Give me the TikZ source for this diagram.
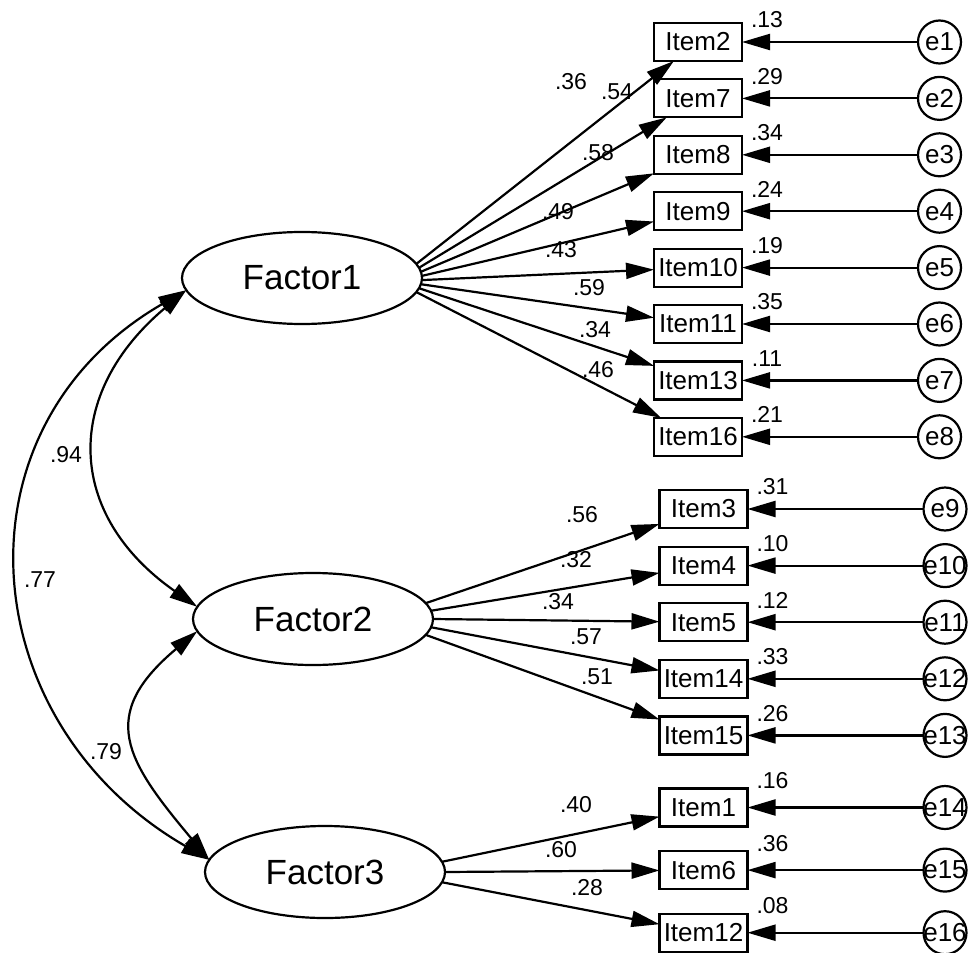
\documentclass[tikz,border=0pt]{standalone}
\usepackage{fontspec}
\setmainfont{Liberation Sans}
\usepackage{tikz}
\usetikzlibrary{arrows.meta}
\usetikzlibrary{shapes.geometric,positioning}
\tikzset{cfa-line/.style={line width=1.1pt}}
\tikzset{>={Triangle[length=14pt,width=8pt]}}
\tikzset{cfa-item/.style={draw, line width=1.1pt, inner sep=0, outer sep=0, minimum width=44pt, minimum height=19pt, font=\fontsize{13}{15}\selectfont}}
\tikzset{cfa-error/.style={draw, circle, line width=1.1pt, inner sep=-3pt, outer sep=0, minimum size=21.5pt, font=\fontsize{13}{15}\selectfont}}
\tikzset{cfa-factor/.style={draw, ellipse, line width=1.1pt, inner sep=0, outer sep=0, minimum width=120pt, minimum height=46pt, font=\fontsize{17.5}{20}\selectfont}}
\tikzset{cfa-num/.style={inner sep=0, font=\fontsize{11.5}{13}\selectfont}}

\begin{document}
\begin{tikzpicture}[x=0.5pt, y=0.5pt]
            \useasboundingbox (0,0) rectangle (968,-952);

            \node[cfa-factor] (factor1) at (302,-278) {Factor1};
            \node[cfa-factor] (factor2) at (313,-619) {Factor2};
            \node[cfa-factor] (factor3) at (325,-872) {Factor3};

            \node[cfa-item] (item2) at (698,-42) {Item2};
            \node[cfa-item, below=9.2pt of item2] (item7) {Item7};
            \node[cfa-item, below=9.2pt of item7] (item8) {Item8};
            \node[cfa-item, below=9.2pt of item8] (item9) {Item9};
            \node[cfa-item, below=9.2pt of item9] (item10) {Item10};
            \node[cfa-item, below=9.2pt of item10] (item11) {Item11};
            \node[cfa-item, below=9.2pt of item11] (item13) {Item13};
            \node[cfa-item, below=9.2pt of item13] (item16) {Item16};

            \node[cfa-item] (item3) at (703.5,-509) {Item3};
            \node[cfa-item, below=9.3pt of item3] (item4) {Item4};
            \node[cfa-item, below=9.3pt of item4] (item5) {Item5};
            \node[cfa-item, below=9.3pt of item5] (item14) {Item14};
            \node[cfa-item, below=9.3pt of item14] (item15) {Item15};

            \node[cfa-item] (item1) at (703.5,-807.5) {Item1};
            \node[cfa-item, below=12.3pt of item1] (item6) {Item6};
            \node[cfa-item, below=12.3pt of item6] (item12) {Item12};

            \node[cfa-error, right=88pt of item2] (e1) {e1};
            \node[cfa-error, right=88pt of item7] (e2) {e2};
            \node[cfa-error, right=88pt of item8] (e3) {e3};
            \node[cfa-error, right=88pt of item9] (e4) {e4};
            \node[cfa-error, right=88pt of item10] (e5) {e5};
            \node[cfa-error, right=88pt of item11] (e6) {e6};
            \node[cfa-error, right=88pt of item13] (e7) {e7};
            \node[cfa-error, right=88pt of item16] (e8) {e8};
            \node[cfa-error, right=88pt of item3] (e9) {e9};
            \node[cfa-error, right=88pt of item4] (e10) {e10};
            \node[cfa-error, right=88pt of item5] (e11) {e11};
            \node[cfa-error, right=88pt of item14] (e12) {e12};
            \node[cfa-error, right=88pt of item15] (e13) {e13};
            \node[cfa-error, right=88pt of item1] (e14) {e14};
            \node[cfa-error, right=88pt of item6] (e15) {e15};
            \node[cfa-error, right=88pt of item12] (e16) {e16};

            \draw[->, cfa-line] (factor1.7) -- (item2);
            \draw[->, cfa-line] (factor1.5) -- (item7);
            \draw[->, cfa-line] (factor1.3) -- (item8);
            \draw[->, cfa-line] (factor1.1) -- (item9);
            \draw[->, cfa-line] (factor1.-1) -- (item10);
            \draw[->, cfa-line] (factor1.-3) -- (item11);
            \draw[->, cfa-line] (factor1.-5) -- (item13);
            \draw[->, cfa-line] (factor1.-7) -- (item16);

            \draw[->, cfa-line] (factor2.8) -- (item3);
            \draw[->, cfa-line] (factor2.4) -- (item4);
            \draw[->, cfa-line] (factor2.0) -- (item5);
            \draw[->, cfa-line] (factor2.-4) -- (item14);
            \draw[->, cfa-line] (factor2.-8) -- (item15);

            \draw[->, cfa-line] (factor3.5) -- (item1);
            \draw[->, cfa-line] (factor3.0) -- (item6);
            \draw[->, cfa-line] (factor3.-5) -- (item12);

            \draw[->, cfa-line] (e1) -- (item2);
            \draw[->, cfa-line] (e2) -- (item7);
            \draw[->, cfa-line] (e3) -- (item8);
            \draw[->, cfa-line] (e4) -- (item9);
            \draw[->, cfa-line] (e5) -- (item10);
            \draw[->, cfa-line] (e6) -- (item11);
            \draw[->, cfa-line] (e7) -- (item13);
            \draw[->, cfa-line] (e8) -- (item16);
            \draw[->, cfa-line] (e9) -- (item3);
            \draw[->, cfa-line] (e10) -- (item4);
            \draw[->, cfa-line] (e11) -- (item5);
            \draw[->, cfa-line] (e12) -- (item14);
            \draw[->, cfa-line] (e13) -- (item15);
            \draw[->, cfa-line] (e14) -- (item1);
            \draw[->, cfa-line] (e15) -- (item6);
            \draw[->, cfa-line] (e16) -- (item12);

            \draw[<->, cfa-line] (factor1.186) to[out=220, in=145, looseness=1.3] (factor2.174);
            \draw[<->, cfa-line] (factor1.186) to[out=210, in=150, looseness=1.23] (factor3.174);
            \draw[<->, cfa-line] (factor2.186) to[out=220, in=130, looseness=1.46] (factor3.174);

            \node[cfa-num] (cov12) at (66,-455) {.94};
            \node[cfa-num] (cov13) at (40,-580) {.77};
            \node[cfa-num] (cov23) at (106,-752) {.79};

            \node[cfa-num] (load2) at (571,-82) {.36};
            \node[cfa-num] (load7) at (617,-92) {.54};
            \node[cfa-num] (load8) at (598,-153) {.58};
            \node[cfa-num] (load9) at (558,-212) {.49};
            \node[cfa-num] (load10) at (561,-250) {.43};
            \node[cfa-num] (load11) at (589,-288) {.59};
            \node[cfa-num] (load13) at (595,-330) {.34};
            \node[cfa-num] (load16) at (598,-370) {.46};
            \node[cfa-num] (load3) at (582,-515) {.56};
            \node[cfa-num] (load4) at (576,-560) {.32};
            \node[cfa-num] (load5) at (558,-602) {.34};
            \node[cfa-num] (load14) at (586,-637) {.57};
            \node[cfa-num] (load15) at (597,-677) {.51};
            \node[cfa-num] (load1) at (576,-805) {.40};
            \node[cfa-num] (load6) at (561,-850) {.60};
            \node[cfa-num] (load12) at (587,-888) {.28};

            \node[cfa-num] (var2) at ([shift={(25,3)}]item2.north east) {.13};
            \node[cfa-num] (var7) at ([shift={(25,3)}]item7.north east) {.29};
            \node[cfa-num] (var8) at ([shift={(25,3)}]item8.north east) {.34};
            \node[cfa-num] (var9) at ([shift={(25,3)}]item9.north east) {.24};
            \node[cfa-num] (var10) at ([shift={(25,3)}]item10.north east) {.19};
            \node[cfa-num] (var11) at ([shift={(25,3)}]item11.north east) {.35};
            \node[cfa-num] (var13) at ([shift={(25,3)}]item13.north east) {.11};
            \node[cfa-num] (var16) at ([shift={(25,3)}]item16.north east) {.21};
            \node[cfa-num] (var3) at ([shift={(25,3)}]item3.north east) {.31};
            \node[cfa-num] (var4) at ([shift={(25,3)}]item4.north east) {.10};
            \node[cfa-num] (var5) at ([shift={(25,3)}]item5.north east) {.12};
            \node[cfa-num] (var14) at ([shift={(25,3)}]item14.north east) {.33};
            \node[cfa-num] (var15) at ([shift={(25,3)}]item15.north east) {.26};
            \node[cfa-num] (var1) at ([shift={(25,8)}]item1.north east) {.16};
            \node[cfa-num] (var6) at ([shift={(25,8)}]item6.north east) {.36};
            \node[cfa-num] (var12) at ([shift={(25,8)}]item12.north east) {.08};
        \end{tikzpicture}
\end{document}
